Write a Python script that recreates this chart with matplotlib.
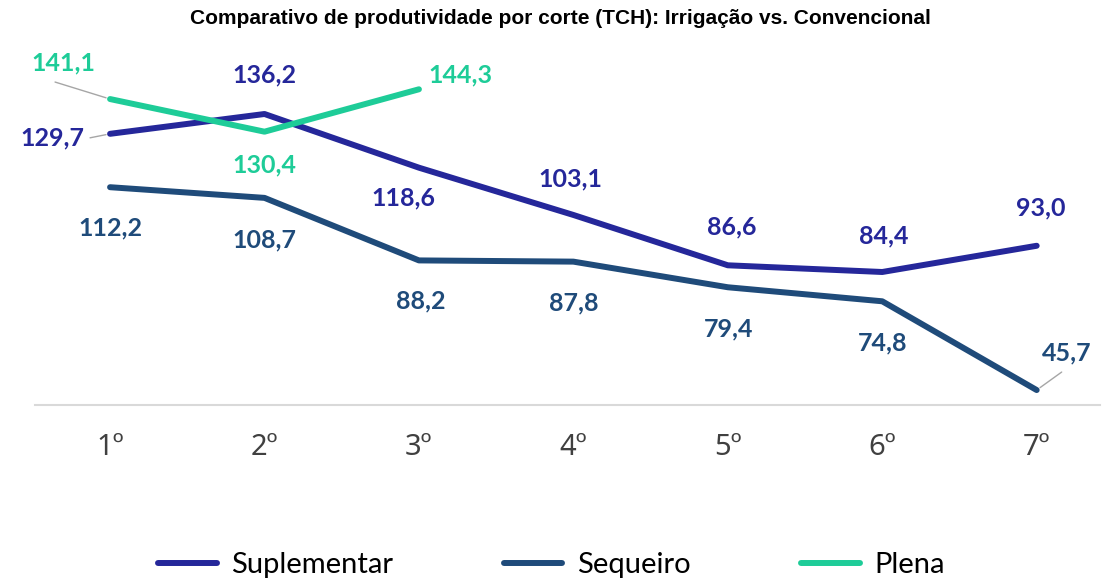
import matplotlib
matplotlib.use('Agg')
import matplotlib.pyplot as plt

# ---------------------------------------------------------------------------
# Data
# ---------------------------------------------------------------------------
cortes      = ['1º', '2º', '3º', '4º', '5º', '6º', '7º']
suplementar = [129.7, 136.2, 118.6, 103.1, 86.6, 84.4, 93.0]
sequeiro    = [112.2, 108.7, 88.2, 87.8, 79.4, 74.8, 45.7]
plena       = [141.1, 130.4, 144.3]

# ---------------------------------------------------------------------------
# Style
# ---------------------------------------------------------------------------
C_SUP = '#25279A'
C_SEQ = '#1F4B7A'
C_PLE = '#1ECC98'
FONT  = ['Lato', 'DejaVu Sans']

# label offsets in pixels (dx, dy) relative to each point
off_sup = [(-58, -4), (0, 39), (-16, -30), (-3, 36), (4, 38), (2, 36), (4, 38)]
off_seq = [(0, -41), (0, -42), (2, -41), (0, -41), (1, -42), (0, -42), (30, 37)]
off_ple = [(-47, 36), (0, -33), (41, 14)]

fig = plt.figure(figsize=(11.03, 5.84), dpi=100)
ax = fig.add_axes([35 / 1103, 1 - 405 / 584, 1065 / 1103, 345 / 584])

x = list(range(len(cortes)))
ax.plot(x, suplementar, color=C_SUP, lw=4.3, solid_capstyle='round', label='Suplementar')
ax.plot(x, sequeiro, color=C_SEQ, lw=4.3, solid_capstyle='round', label='Sequeiro')
ax.plot(x[:len(plena)], plena, color=C_PLE, lw=4.3, solid_capstyle='round', label='Plena')

def fmt(v):
    return f'{v:.1f}'.replace('.', ',')

def labels(vals, offs, color):
    for i, (v, (dx, dy)) in enumerate(zip(vals, offs)):
        ax.annotate(fmt(v), (i, v), xytext=(dx, dy), textcoords='offset pixels',
                    ha='center', va='center', color=color, fontsize=18,
                    fontweight='bold', family=FONT)

labels(suplementar, off_sup, C_SUP)
labels(sequeiro, off_seq, C_SEQ)
labels(plena, off_ple, C_PLE)

# leader lines (pixel offsets from the point)
def leader(i, v, dx, dy):
    ax.annotate('', (i, v), xytext=(dx, dy), textcoords='offset pixels',
                arrowprops=dict(arrowstyle='-', color='#A6A6A6', lw=1,
                                shrinkA=0, shrinkB=3))

leader(0, plena[0], -55, 17)
leader(0, suplementar[0], -20, -4)
leader(6, sequeiro[6], 25, 18)

ax.set_xlim(-0.486, 6.41)
ax.set_ylim(40.8, 153.9)
ax.set_xticks(x)
ax.set_xticklabels(cortes, fontsize=21, color='#404040',
                   family=['Noto Sans', 'DejaVu Sans'])
ax.tick_params(axis='x', length=0, pad=20)
ax.set_yticks([])
for s in ['top', 'right', 'left']:
    ax.spines[s].set_visible(False)
ax.spines['bottom'].set_color('#D9D9D9')
ax.spines['bottom'].set_linewidth(1.5)
ax.patch.set_alpha(0)

fig.text(0.508, 1 - 19 / 584, 'Comparativo de produtividade por corte (TCH): Irrigação vs. Convencional',
         ha='center', va='center', fontsize=15, fontweight='bold',
         family=['Liberation Sans', 'DejaVu Sans'])

fig.legend(loc='center', bbox_to_anchor=(0.5, 1 - 565 / 584), ncol=3, frameon=False,
           prop={'family': FONT, 'size': 21}, handlelength=2.0, handletextpad=0.5,
           columnspacing=3.8)

plt.savefig('out.png', dpi=100)
plt.close()
